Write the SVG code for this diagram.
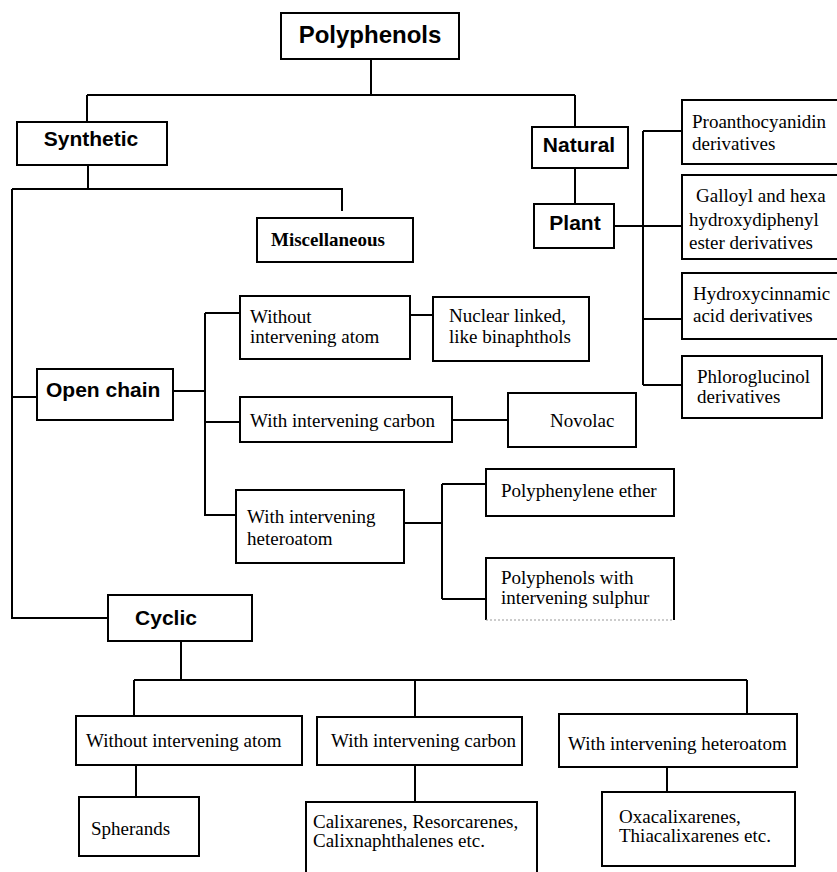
<svg xmlns="http://www.w3.org/2000/svg" width="837" height="872" viewBox="0 0 837 872">
<style>
.box{fill:#fff;stroke:#000;stroke-width:2}
.conn{fill:none;stroke:#000;stroke-width:2}
.sans{font-family:"Liberation Sans",Arial,sans-serif;font-weight:bold;font-size:21px;fill:#000}
.serif{font-family:"Liberation Serif","Times New Roman",serif;font-size:19px;fill:#000}
.b{font-weight:bold}
.mid{text-anchor:middle}
</style>
<rect width="837" height="872" fill="#fff"/>
<g id="connectors">
<path class="conn" d="M371 59V95M87 95H575M87 95V122M575 95V127"/>
<path class="conn" d="M88 165V189M12 189H342V211"/>
<path class="conn" d="M12 189V618H108M12 397H37"/>
<path class="conn" d="M173 391H205M205 313V515H236M205 313H240M205 422H240"/>
<path class="conn" d="M410 315H433M452 420H508"/>
<path class="conn" d="M404 523H442M442 484V599M442 484H486M442 599H486"/>
<path class="conn" d="M575 168V204M614 226H682M643 131V385M643 131H682M643 319H682M643 385H682"/>
<path class="conn" d="M181 641V680M134 680H747M134 680V716M415 680V717M747 680V714"/>
<path class="conn" d="M136 765V797M415 765V802M667 767V792"/>
</g>
<g id="polyphenols"><rect class="box" x="281" y="13" width="178" height="46"/><text class="sans mid" x="370" y="43" style="font-size:24px">Polyphenols</text></g>
<g id="synthetic"><rect class="box" x="17" y="122" width="150" height="43"/><text class="sans mid" x="91" y="146">Synthetic</text></g>
<g id="natural"><rect class="box" x="532" y="127" width="96" height="41"/><text class="sans mid" x="579" y="152">Natural</text></g>
<g id="plant"><rect class="box" x="534" y="204" width="80" height="44"/><text class="sans mid" x="575" y="230">Plant</text></g>
<g id="miscellaneous"><rect class="box" x="257" y="218" width="156" height="44"/><text class="serif b" x="271" y="246">Miscellaneous</text></g>
<g id="open-chain"><rect class="box" x="37" y="369" width="136" height="51"/><text class="sans" x="46" y="397">Open chain</text></g>
<g id="oc-without"><rect class="box" x="240" y="296" width="170" height="63"/><text class="serif" x="250" y="323">Without</text><text class="serif" x="250" y="343">intervening atom</text></g>
<g id="oc-carbon"><rect class="box" x="240" y="397" width="212" height="45"/><text class="serif" x="250" y="427">With intervening carbon</text></g>
<g id="nuclear"><rect class="box" x="433" y="297" width="156" height="64"/><text class="serif" x="449" y="322">Nuclear linked,</text><text class="serif" x="449" y="343">like binaphthols</text></g>
<g id="novolac"><rect class="box" x="508" y="393" width="128" height="54"/><text class="serif" x="550" y="427">Novolac</text></g>
<g id="oc-hetero"><rect class="box" x="236" y="490" width="168" height="73"/><text class="serif" x="247" y="523">With intervening</text><text class="serif" x="247" y="545">heteroatom</text></g>
<g id="polyphenylene"><rect class="box" x="486" y="469" width="188" height="47"/><text class="serif" x="501" y="497">Polyphenylene ether</text></g>
<g id="sulphur"><path class="box" d="M486 620V558H674V620"/><path d="M486 620H674" stroke="#999" stroke-width="1" stroke-dasharray="2 2"/><text class="serif" x="501" y="584">Polyphenols with</text><text class="serif" x="501" y="604">intervening sulphur</text></g>
<g id="proanthocyanidin"><rect class="box" x="682" y="100" width="163" height="64"/><text class="serif" x="692" y="128">Proanthocyanidin</text><text class="serif" x="692" y="150">derivatives</text></g>
<g id="galloyl"><rect class="box" x="682" y="175" width="163" height="84"/><text class="serif" x="696" y="202">Galloyl and hexa</text><text class="serif" x="689" y="226">hydroxydiphenyl</text><text class="serif" x="689" y="249">ester derivatives</text></g>
<g id="hydroxycinnamic"><rect class="box" x="682" y="273" width="163" height="66"/><text class="serif" x="693" y="300">Hydroxycinnamic</text><text class="serif" x="693" y="322">acid derivatives</text></g>
<g id="phloroglucinol"><rect class="box" x="682" y="356" width="140" height="62"/><text class="serif" x="697" y="383">Phloroglucinol</text><text class="serif" x="697" y="403">derivatives</text></g>
<g id="cyclic"><rect class="box" x="108" y="595" width="144" height="46"/><text class="sans mid" x="166" y="625">Cyclic</text></g>
<g id="cy-without"><rect class="box" x="76" y="716" width="226" height="49"/><text class="serif" x="86" y="747">Without intervening atom</text></g>
<g id="cy-carbon"><rect class="box" x="317" y="717" width="205" height="48"/><text class="serif" x="331" y="747">With intervening carbon</text></g>
<g id="cy-hetero"><rect class="box" x="559" y="714" width="238" height="53"/><text class="serif" x="568" y="750">With intervening heteroatom</text></g>
<g id="spherands"><rect class="box" x="79" y="797" width="120" height="59"/><text class="serif" x="91" y="835">Spherands</text></g>
<g id="calixarenes"><rect class="box" x="306" y="802" width="231" height="80"/><text class="serif" x="313" y="828">Calixarenes, Resorcarenes,</text><text class="serif" x="313" y="847">Calixnaphthalenes etc.</text></g>
<g id="oxacalixarenes"><rect class="box" x="602" y="792" width="193" height="74"/><text class="serif" x="619" y="823">Oxacalixarenes,</text><text class="serif" x="619" y="842">Thiacalixarenes etc.</text></g>
</svg>
